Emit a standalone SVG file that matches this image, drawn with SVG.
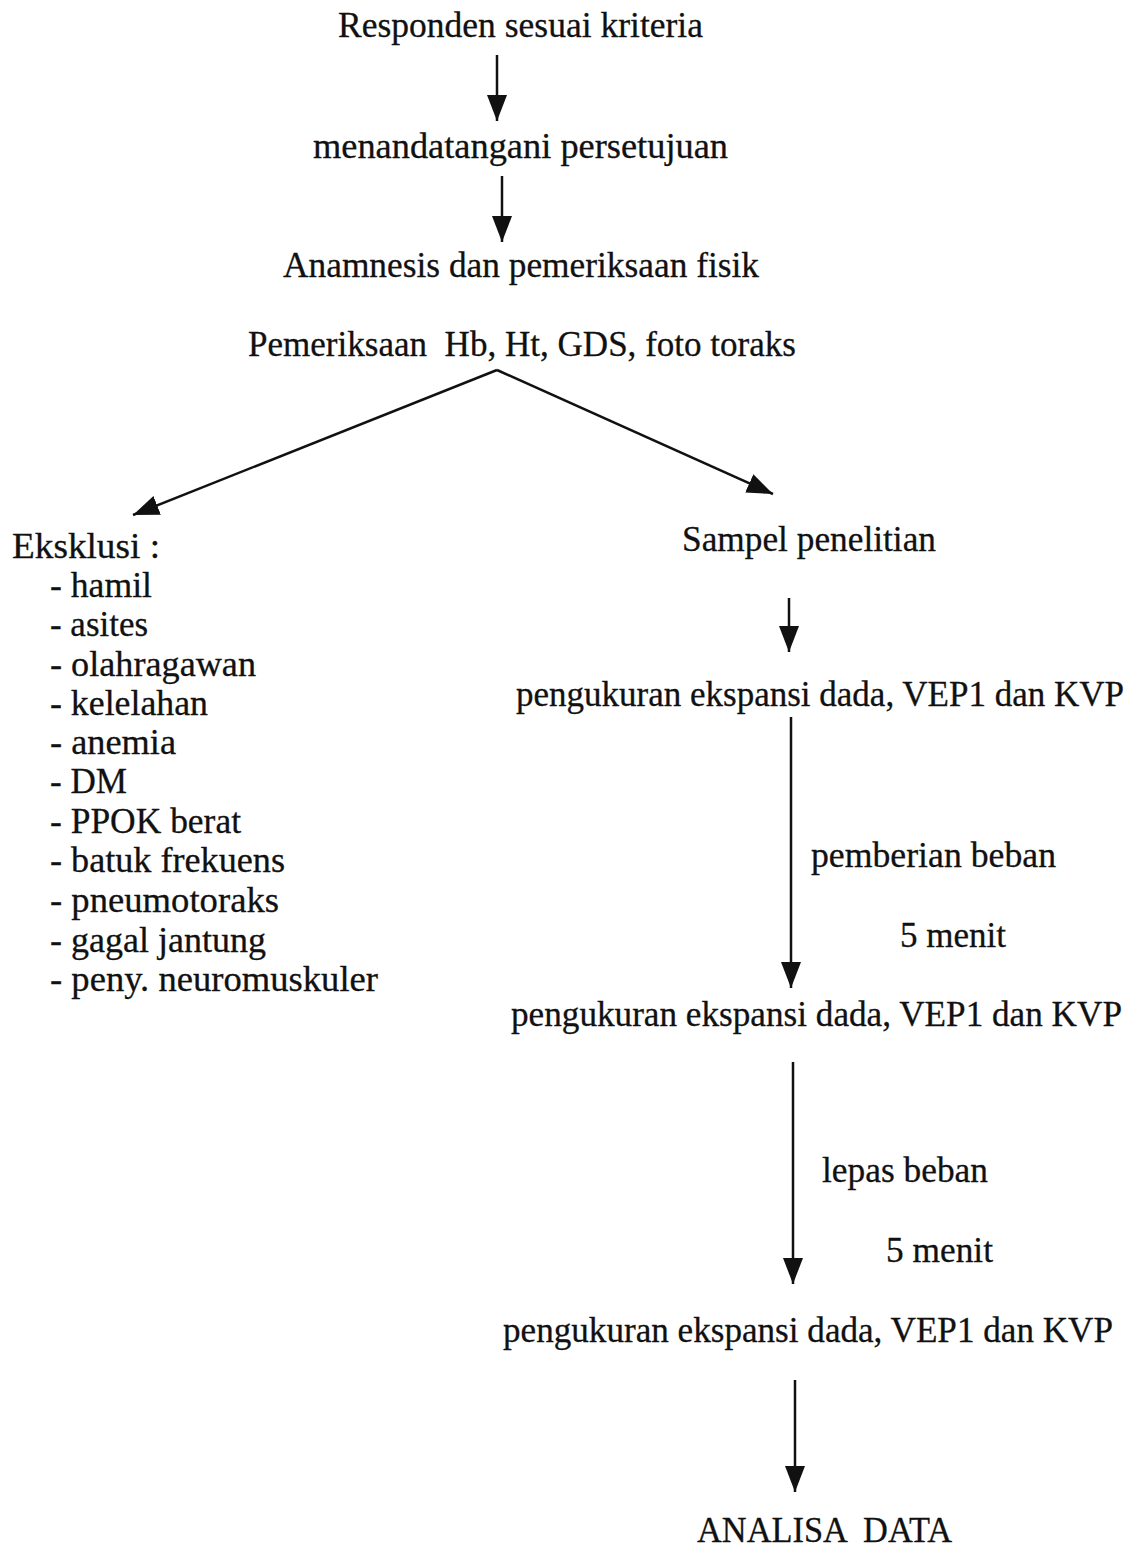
<svg xmlns="http://www.w3.org/2000/svg" width="1139" height="1548" viewBox="0 0 1139 1548">
<style>
text{font-family:"Liberation Serif","Times New Roman",serif;font-size:36px;fill:#111;stroke:#111;stroke-width:0.3;white-space:pre}
.c line{stroke:#111;stroke-width:2.5;fill:none}
</style>
<defs>
<marker id="ah" markerUnits="userSpaceOnUse" markerWidth="28" markerHeight="22" refX="26" refY="10" orient="auto">
<path d="M0,0 L26,10 L0,20 z" fill="#111"/>
</marker>
</defs>
<rect width="1139" height="1548" fill="#fff"/>
<g class="c" id="connectors">
<line x1="497" y1="55" x2="497" y2="121" marker-end="url(#ah)"/>
<line x1="502" y1="176" x2="502" y2="242" marker-end="url(#ah)"/>
<line x1="497" y1="370" x2="133" y2="515" marker-end="url(#ah)"/>
<line x1="497" y1="370" x2="773" y2="494" marker-end="url(#ah)"/>
<line x1="789" y1="598" x2="789" y2="652" marker-end="url(#ah)"/>
<line x1="791" y1="717" x2="791" y2="988" marker-end="url(#ah)"/>
<line x1="793" y1="1062" x2="793" y2="1284" marker-end="url(#ah)"/>
<line x1="795" y1="1380" x2="795" y2="1492" marker-end="url(#ah)"/>
</g>
<g id="n1"><text x="338" y="37" textLength="365" lengthAdjust="spacingAndGlyphs">Responden sesuai kriteria</text></g>
<g id="n2"><text x="313" y="158" textLength="415" lengthAdjust="spacingAndGlyphs">menandatangani persetujuan</text></g>
<g id="n3"><text x="283" y="277" textLength="476" lengthAdjust="spacingAndGlyphs">Anamnesis dan pemeriksaan fisik</text></g>
<g id="n4"><text x="248" y="356" textLength="548" lengthAdjust="spacingAndGlyphs">Pemeriksaan  Hb, Ht, GDS, foto toraks</text></g>
<g id="n5">
<text x="12" y="558" textLength="148" lengthAdjust="spacingAndGlyphs">Eksklusi :</text>
<text x="50" y="597" textLength="102" lengthAdjust="spacingAndGlyphs">- hamil</text>
<text x="50" y="636" textLength="98" lengthAdjust="spacingAndGlyphs">- asites</text>
<text x="50" y="676" textLength="206" lengthAdjust="spacingAndGlyphs">- olahragawan</text>
<text x="50" y="715" textLength="158" lengthAdjust="spacingAndGlyphs">- kelelahan</text>
<text x="50" y="754" textLength="126" lengthAdjust="spacingAndGlyphs">- anemia</text>
<text x="50" y="793" textLength="77" lengthAdjust="spacingAndGlyphs">- DM</text>
<text x="50" y="833" textLength="191" lengthAdjust="spacingAndGlyphs">- PPOK berat</text>
<text x="50" y="872" textLength="235" lengthAdjust="spacingAndGlyphs">- batuk frekuens</text>
<text x="50" y="912" textLength="229" lengthAdjust="spacingAndGlyphs">- pneumotoraks</text>
<text x="50" y="952" textLength="216" lengthAdjust="spacingAndGlyphs">- gagal jantung</text>
<text x="50" y="991" textLength="328" lengthAdjust="spacingAndGlyphs">- peny. neuromuskuler</text>
</g>
<g id="n6"><text x="682" y="551" textLength="254" lengthAdjust="spacingAndGlyphs">Sampel penelitian</text></g>
<g id="n7"><text x="516" y="706" textLength="608" lengthAdjust="spacingAndGlyphs">pengukuran ekspansi dada, VEP1 dan KVP</text></g>
<g id="l1"><text x="811" y="867" textLength="245" lengthAdjust="spacingAndGlyphs">pemberian beban</text></g>
<g id="l2"><text x="900" y="947" textLength="106" lengthAdjust="spacingAndGlyphs">5 menit</text></g>
<g id="n8"><text x="511" y="1026" textLength="611" lengthAdjust="spacingAndGlyphs">pengukuran ekspansi dada, VEP1 dan KVP</text></g>
<g id="l3"><text x="822" y="1182" textLength="166" lengthAdjust="spacingAndGlyphs">lepas beban</text></g>
<g id="l4"><text x="886" y="1262" textLength="107" lengthAdjust="spacingAndGlyphs">5 menit</text></g>
<g id="n9"><text x="503" y="1342" textLength="610" lengthAdjust="spacingAndGlyphs">pengukuran ekspansi dada, VEP1 dan KVP</text></g>
<g id="n10"><text x="697" y="1542" textLength="255" lengthAdjust="spacingAndGlyphs">ANALISA  DATA</text></g>
</svg>
